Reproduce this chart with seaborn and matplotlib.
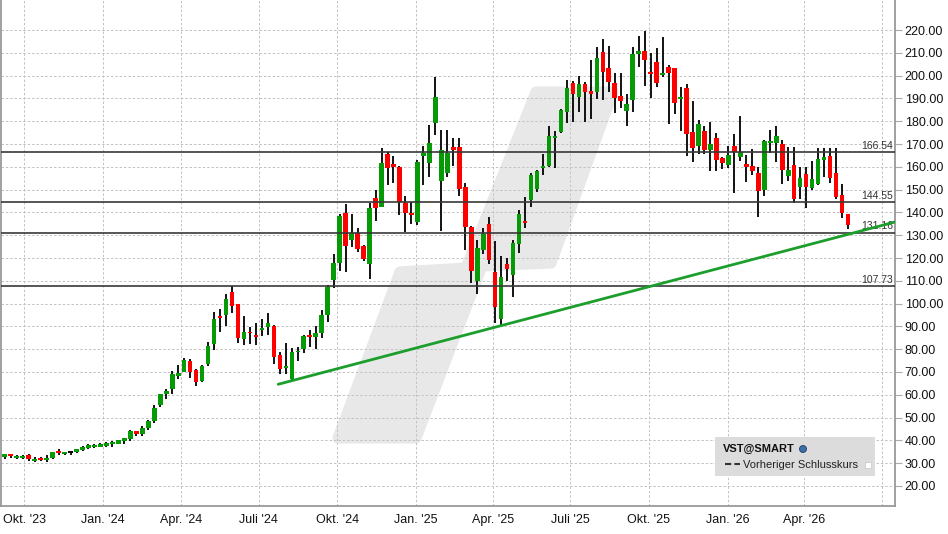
import numpy as np
import pandas as pd
import matplotlib
matplotlib.use("Agg")
import matplotlib.pyplot as plt
import matplotlib.dates as mdates
import matplotlib.transforms as mtransforms
from matplotlib.patches import Polygon, Rectangle, Ellipse
from matplotlib.lines import Line2D
import seaborn as sns

# weekly candles VST (Sep 2023 - May 2026)
open_ = [30.0, 32.6, 33.8, 32.2, 32.2, 33.4, 31.0, 32.0, 31.2, 32.2,
         35.3, 33.9, 34.5, 34.7, 35.8, 36.7, 36.9, 37.3, 37.6, 38.2,
         38.6, 39.6, 40.8, 43.9, 42.9, 45.6, 48.7, 55.3, 60.4, 62.4,
         68.3, 70.2, 74.9, 70.9, 66.2, 73.5, 82.4, 94.5, 95.1, 105.1,
         100.0, 84.3, 87.5, 86.2, 88.6, 89.9, 90.2, 77.4, 71.9, 67.1,
         78.6, 79.9, 86.2, 85.5, 87.0, 95.0, 110.5, 118.0, 139.6, 128.0,
         131.1, 125.3, 117.5, 146.3, 142.5, 165.6, 161.2, 159.9, 144.2, 139.8,
         135.9, 164.7, 161.8, 179.3, 153.9, 157.4, 168.5, 168.6, 151.1, 133.6,
         110.1, 123.6, 134.9, 113.7, 93.1, 117.2, 112.7, 126.3, 136.2, 145.4,
         150.4, 159.6, 160.4, 172.8, 175.4, 184.2, 197.0, 190.8, 196.3, 193.2,
         193.0, 210.4, 203.2, 196.6, 191.1, 184.6, 189.5, 209.6, 210.8, 201.6,
         206.0, 200.3, 203.8, 203.3, 189.9, 194.6, 175.1, 169.3, 175.7, 167.5,
         172.5, 163.9, 160.9, 169.1, 164.5, 161.2, 160.4, 157.3, 149.8, 170.6,
         170.6, 170.1, 156.1, 160.9, 151.3, 156.8, 150.8, 152.6, 163.1, 164.9,
         157.3, 147.6, 139.3]
high_ = [32.0, 34.2, 34.2, 33.6, 33.7, 33.8, 32.9, 32.8, 33.4, 35.1,
         36.3, 35.1, 35.1, 36.1, 37.7, 38.3, 38.2, 38.8, 39.2, 39.9,
         40.1, 40.9, 44.7, 43.9, 46.1, 48.8, 55.7, 60.4, 62.4, 70.6,
         73.1, 76.0, 75.6, 71.5, 73.1, 83.2, 96.2, 97.6, 104.4, 107.6,
         100.0, 94.5, 89.7, 91.5, 93.2, 96.0, 90.7, 78.7, 82.9, 80.4,
         80.8, 86.2, 88.4, 90.0, 97.0, 108.0, 121.7, 139.3, 143.7, 139.3,
         133.0, 125.5, 144.2, 149.8, 168.3, 166.3, 164.7, 160.3, 147.2, 144.4,
         162.9, 169.1, 178.3, 199.6, 176.1, 176.1, 172.5, 172.5, 152.7, 134.0,
         127.9, 133.2, 138.1, 127.3, 120.9, 119.9, 127.9, 140.9, 146.9, 157.4,
         158.4, 165.6, 177.9, 175.7, 185.4, 198.1, 197.5, 199.8, 197.3, 206.8,
         212.7, 216.3, 213.0, 201.0, 201.0, 191.9, 212.4, 217.4, 219.6, 209.8,
         212.0, 216.8, 204.5, 203.3, 195.0, 196.2, 188.9, 180.5, 178.0, 179.7,
         174.8, 164.5, 169.1, 174.4, 182.4, 165.0, 167.8, 160.1, 171.6, 176.1,
         177.9, 171.7, 168.5, 168.7, 159.8, 159.8, 162.5, 168.1, 168.1, 168.1,
         168.1, 152.4, 139.3]
low_ = [29.8, 31.75, 32.3, 31.75, 32.0, 31.0, 30.7, 31.0, 30.7, 32.0,
        33.4, 33.7, 33.7, 34.4, 35.5, 36.0, 36.7, 37.2, 37.3, 37.3,
        38.5, 38.6, 39.9, 42.1, 41.8, 44.7, 47.4, 54.5, 58.0, 60.4,
        66.8, 69.9, 67.5, 64.0, 65.4, 72.6, 79.8, 87.5, 90.3, 95.7,
        82.9, 81.7, 82.3, 81.7, 85.9, 86.3, 73.5, 69.0, 69.0, 66.2,
        74.7, 78.2, 81.1, 80.0, 85.0, 92.0, 106.7, 114.4, 114.0, 125.0,
        122.8, 118.8, 110.9, 136.4, 142.3, 152.1, 153.0, 139.0, 131.2, 134.9,
        134.5, 152.1, 155.7, 173.9, 132.0, 155.7, 160.3, 147.3, 123.5, 109.2,
        104.1, 121.8, 117.2, 91.6, 90.1, 110.1, 103.0, 122.1, 133.2, 142.5,
        148.9, 156.4, 160.1, 159.6, 174.7, 179.4, 179.8, 184.2, 179.8, 181.1,
        189.6, 189.3, 193.0, 183.5, 185.9, 178.0, 184.2, 203.9, 195.6, 190.3,
        195.2, 199.5, 178.9, 183.0, 175.7, 164.9, 162.0, 165.5, 165.8, 158.3,
        158.3, 159.2, 159.6, 148.7, 162.6, 153.5, 156.6, 138.1, 147.2, 165.9,
        162.2, 152.4, 153.9, 144.3, 146.0, 142.1, 149.8, 152.0, 155.7, 153.0,
        146.1, 137.4, 132.6]
close_ = [31.7, 33.8, 33.1, 32.9, 33.1, 31.75, 31.75, 31.3, 32.2, 34.7,
          34.4, 34.8, 34.5, 36.0, 37.0, 37.9, 37.9, 38.3, 38.8, 39.3,
          40.1, 40.9, 44.3, 42.8, 45.3, 48.4, 54.4, 60.3, 61.5, 69.1,
          69.5, 75.3, 69.8, 65.8, 72.6, 81.4, 93.2, 93.7, 102.0, 99.1,
          85.1, 87.5, 86.9, 85.5, 89.3, 91.5, 76.7, 71.4, 72.6, 78.7,
          79.2, 85.8, 85.5, 87.0, 95.0, 107.4, 117.8, 138.4, 125.4, 131.0,
          124.1, 119.7, 141.9, 142.0, 161.7, 159.6, 159.9, 144.5, 139.8, 138.8,
          162.1, 166.2, 170.3, 190.5, 167.6, 166.2, 167.5, 150.4, 133.7, 114.4,
          124.4, 130.5, 119.3, 98.3, 111.6, 115.3, 126.4, 139.1, 135.3, 156.5,
          158.2, 160.4, 173.5, 173.5, 184.9, 194.4, 192.1, 196.3, 193.0, 192.1,
          207.7, 201.7, 197.3, 190.3, 189.0, 187.6, 209.5, 210.8, 207.0, 200.9,
          196.9, 201.1, 201.3, 188.1, 190.6, 174.5, 168.4, 178.8, 167.2, 170.0,
          163.1, 161.8, 165.2, 166.5, 166.5, 159.9, 158.3, 149.5, 171.3, 171.3,
          173.6, 158.6, 158.6, 146.0, 155.1, 151.3, 154.6, 163.4, 164.3, 155.2,
          146.6, 139.6, 134.5]

levels = [166.54, 144.55, 131.16, 107.73]
trend_dates = ["2024-07-24", "2026-07-16"]
trend_values = [64.6, 135.8]

quarter_ticks = ["2023-10-01", "2024-01-01", "2024-04-01", "2024-07-01", "2024-10-01",
                 "2025-01-01", "2025-04-01", "2025-07-01", "2025-10-01", "2026-01-01",
                 "2026-04-01", "2026-07-01"]
quarter_labels = ["Okt. '23", "Jan. '24", "Apr. '24", "Juli '24", "Okt. '24", "Jan. '25",
                  "Apr. '25", "Juli '25", "Okt. '25", "Jan. '26", "Apr. '26", ""]

sns.set_style("white")
plt.rcParams["font.family"] = ["Liberation Sans", "DejaVu Sans"]

W, H = 948, 534
fig = plt.figure(figsize=(W / 100, H / 100), dpi=100)
ax = fig.add_axes([0.5 / W, 28 / H, 894.5 / W, 506 / H])

df = pd.DataFrame({"open": open_, "high": high_, "low": low_, "close": close_})
df["date"] = pd.date_range("2023-09-01", periods=len(df), freq="7D")
df["x"] = mdates.date2num(df["date"])
df["color"] = np.where(df["close"] > df["open"], "#079a07",
                       np.where(df["close"] < df["open"], "#ff0000", "#000000"))
bottom = df[["open", "close"]].min(axis=1)
height = (df["close"] - df["open"]).abs().clip(lower=0.8)

# watermark (decoration, pixel space)
def px(x, y):
    return (x / W, 1 - y / H)

wm = [px(338, 438), px(400, 272), px(466, 268), px(536, 92), px(613, 92),
      px(551, 263), px(482, 266), px(416, 438)]
ax.add_patch(Polygon(wm, closed=True, transform=fig.transFigure, facecolor="#e8e8e8",
                     edgecolor="#e8e8e8", lw=8, joinstyle="round", zorder=0))

ax.vlines(df["x"], df["low"], df["high"], color="black", lw=1.3, zorder=2)
ax.bar(df["x"], height, bottom=bottom, width=5.4, color=df["color"], lw=0, zorder=3)

for v in levels:
    ax.axhline(v, color="#383838", lw=1.2, zorder=4)
    ax.text(0.998, v + 0.6, f"{v:.2f}", transform=mtransforms.blended_transform_factory(ax.transAxes, ax.transData),
            ha="right", va="bottom", fontsize=7.5, color="#333333", zorder=5)

sns.lineplot(x=mdates.date2num(pd.to_datetime(trend_dates)), y=trend_values, ax=ax,
             color="#1c9e2c", lw=2, zorder=5)

ax.set_xlim(mdates.date2num(pd.Timestamp("2023-09-03")), mdates.date2num(pd.Timestamp("2026-07-16")))
ax.set_ylim(11.2, 233.2)
ax.set_yticks(np.arange(20, 230, 10))
ax.set_yticklabels([f"{v:.2f}" for v in np.arange(20, 230, 10)])
ax.set_xticks(mdates.date2num(pd.to_datetime(quarter_ticks)))
ax.set_xticklabels(quarter_labels)
ax.yaxis.tick_right()
ax.tick_params(axis="y", length=5, color="#aaaaaa", pad=2, labelsize=9, labelcolor="#111111")
ax.tick_params(axis="x", length=0, pad=6, labelsize=9, labelcolor="#111111")
ax.grid(True, color="#c2c2c2", ls=(0, (2.5, 2)), lw=0.7, zorder=1)
ax.set_axisbelow(True)
for s in ["left", "right", "bottom"]:
    ax.spines[s].set_color("#999999")
    ax.spines[s].set_linewidth(1.3)
ax.spines["top"].set_visible(False)

# legend box
fig.add_artist(Rectangle(px(715, 476), 160 / W, 39 / H, transform=fig.transFigure,
                         facecolor="#dcdcdc", edgecolor="none", zorder=6))
fig.text(723 / W, 1 - 449 / H, "VST@SMART", fontsize=8, fontweight="bold",
         va="center", ha="left", color="#111111", zorder=7)
fig.add_artist(Ellipse(px(803, 449), 7 / W, 7 / H, transform=fig.transFigure,
                       facecolor="#3b6fa8", edgecolor="#1d3f66", lw=0.6, zorder=7))
fig.add_artist(Line2D([725 / W, 740 / W], [1 - 464 / H] * 2, transform=fig.transFigure,
                      color="#333333", lw=1.5, ls=(0, (3, 1.5)), zorder=7))
fig.text(743 / W, 1 - 465 / H, "Vorheriger Schlusskurs", fontsize=8,
         va="center", ha="left", color="#222222", zorder=7)
fig.add_artist(Rectangle(px(865, 468), 6 / W, 6 / H, transform=fig.transFigure,
                         facecolor="white", edgecolor="#cccccc", lw=0.6, zorder=7))

fig.savefig("out.png", dpi=100, facecolor="white")
